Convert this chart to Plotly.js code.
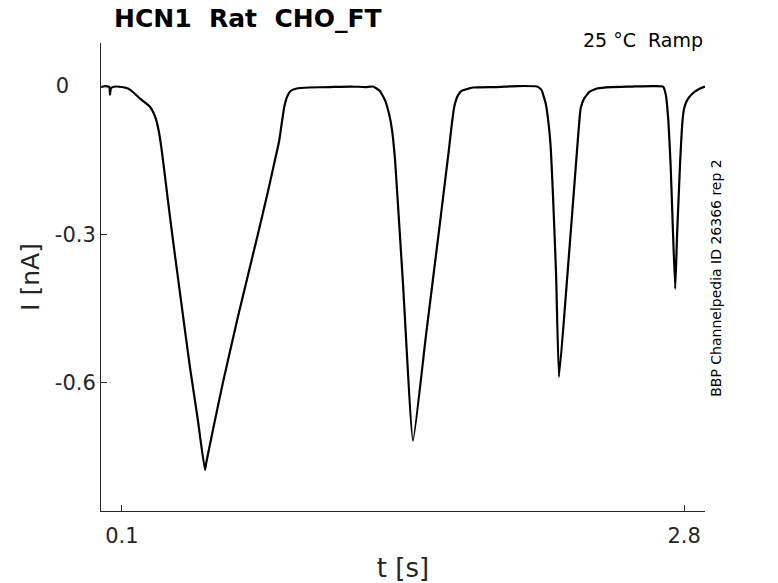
<!DOCTYPE html>
<html>
<head>
<meta charset="utf-8">
<script src="https://cdn.plot.ly/plotly-3.0.1.min.js"></script>
<style>
  html, body { margin: 0; padding: 0; background: #fff; }
  #chart { width: 778px; height: 583px; }
</style>
</head>
<body>
<div id="chart"></div>
<script>
// Current trace: time [s] and current [nA]
var timeS = [
  0.000, 0.020, 0.040, 0.043, 0.048, 0.070, 0.100, 0.130, 0.153, 0.186,
  0.210, 0.235, 0.252, 0.266, 0.279, 0.290, 0.300, 0.321, 0.345, 0.388,
  0.427, 0.465, 0.499, 0.505, 0.540, 0.585, 0.660, 0.753, 0.800, 0.835,
  0.855, 0.868, 0.880, 0.895, 0.910, 0.940, 1.000, 1.100, 1.200, 1.270,
  1.306, 1.339, 1.365, 1.378, 1.390, 1.402, 1.412, 1.450, 1.498, 1.560,
  1.625, 1.670, 1.685, 1.697, 1.710, 1.730, 1.786, 1.900, 2.000, 2.094,
  2.115, 2.135, 2.150, 2.160, 2.170, 2.185, 2.199, 2.236, 2.270, 2.292,
  2.303, 2.320, 2.345, 2.382, 2.450, 2.550, 2.650, 2.699,
  2.712, 2.724, 2.735, 2.745, 2.757, 2.766, 2.781, 2.792, 2.800, 2.815,
  2.840, 2.876, 2.900
];
var currentNA = [
  -0.002, 0.000, -0.002, -0.018, -0.004, -0.001, -0.002, -0.005, -0.012, -0.025,
  -0.033, -0.042, -0.054, -0.070, -0.095, -0.125, -0.158, -0.230, -0.310, -0.446,
  -0.568, -0.675, -0.776, -0.762, -0.690, -0.600, -0.462, -0.300, -0.216, -0.150,
  -0.112, -0.075, -0.042, -0.020, -0.010, -0.005, -0.003, -0.002, -0.001, -0.002,
  -0.001, -0.010, -0.030, -0.048, -0.070, -0.105, -0.150, -0.400, -0.717, -0.505,
  -0.285, -0.130, -0.075, -0.040, -0.022, -0.010, -0.003, -0.002, 0.000, -0.001,
  -0.008, -0.035, -0.080, -0.130, -0.220, -0.380, -0.588, -0.400, -0.215, -0.095,
  -0.045, -0.025, -0.012, -0.005, -0.002, -0.001, 0.000, -0.001,
  -0.018, -0.070, -0.160, -0.280, -0.410, -0.300, -0.150, -0.070, -0.045, -0.028,
  -0.015, -0.005, -0.001
];

var xTicks = [0.1, 2.8];
var xTickText = ['0.1', '2.8'];
var yTicks = [-0.6, -0.3, 0];
var yTickText = ['-0.6', '-0.3', '0\u2007\u2007'];

var titleText = '<b>HCN1\u00a0 Rat\u00a0 CHO_FT</b>';
var conditionText = '25 \u00b0C\u00a0 Ramp';
var sourceText = 'BBP Channelpedia ID 26366 rep 2';

var axisColor = '#262626';
var fontFamily = 'DejaVu Sans, sans-serif';

var trace = {
  x: timeS,
  y: currentNA,
  type: 'scatter',
  mode: 'lines',
  line: { color: '#000000', width: 2.2, shape: 'spline', smoothing: 0.4 },
  hoverinfo: 'skip'
};

var layout = {
  width: 778,
  height: 583,
  margin: { l: 101, r: 73, t: 43, b: 72 },
  paper_bgcolor: '#ffffff',
  plot_bgcolor: '#ffffff',
  showlegend: false,
  font: { family: fontFamily, color: axisColor },
  title: {
    text: titleText,
    font: { family: fontFamily, size: 25, color: '#000000' },
    xref: 'container', x: 114 / 778, xanchor: 'left',
    yref: 'container', y: 1 - 18 / 583, yanchor: 'middle'
  },
  xaxis: {
    range: [0, 2.9],
    tickvals: xTicks,
    ticktext: xTickText,
    ticks: 'inside',
    ticklen: 6,
    tickcolor: axisColor,
    showline: true,
    linecolor: axisColor,
    linewidth: 1,
    showgrid: false,
    zeroline: false,
    ticklabelstandoff: 6,
    tickfont: { family: fontFamily, size: 21, color: axisColor },
    title: { text: 't [s]', standoff: 11, font: { family: fontFamily, size: 26, color: axisColor } }
  },
  yaxis: {
    range: [-0.859, 0.087],
    tickvals: yTicks,
    ticktext: yTickText,
    ticks: 'inside',
    ticklen: 6,
    tickcolor: axisColor,
    showline: true,
    linecolor: axisColor,
    linewidth: 1,
    showgrid: false,
    zeroline: false,
    ticklabelstandoff: 0,
    tickfont: { family: fontFamily, size: 21, color: axisColor },
    title: { text: 'I [nA]', standoff: 8, font: { family: fontFamily, size: 25, color: axisColor } }
  },
  annotations: [
    {
      text: conditionText,
      xref: 'paper', yref: 'paper',
      x: 1.0, y: 1.006,
      xanchor: 'right', yanchor: 'middle',
      showarrow: false,
      font: { family: fontFamily, size: 19, color: '#000000' }
    },
    {
      text: sourceText,
      xref: 'paper', yref: 'paper',
      x: 1.018, y: 0.498,
      xanchor: 'center', yanchor: 'middle',
      textangle: -90,
      showarrow: false,
      font: { family: fontFamily, size: 14, color: '#000000' }
    }
  ]
};

Plotly.newPlot('chart', [trace], layout, { displayModeBar: false, staticPlot: true });
</script>
</body>
</html>
